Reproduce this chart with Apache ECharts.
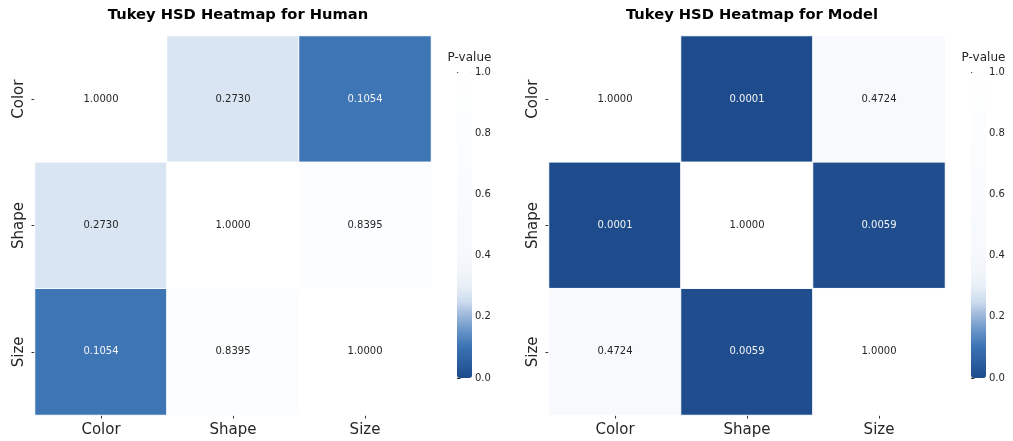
<!DOCTYPE html>
<html>
<head>
<meta charset="utf-8">
<script src="https://cdn.jsdelivr.net/npm/echarts@6/dist/echarts.min.js"></script>
<style>
html,body{margin:0;padding:0;background:#fff;}
#chart{width:1013px;height:441px;}
</style>
</head>
<body>
<div id="chart"></div>
<script>
var categories = ['Color', 'Shape', 'Size'];
var humanP = [
  [1.0000, 0.2730, 0.1054],
  [0.2730, 1.0000, 0.8395],
  [0.1054, 0.8395, 1.0000]
];
var modelP = [
  [1.0000, 0.0001, 0.4724],
  [0.0001, 1.0000, 0.0059],
  [0.4724, 0.0059, 1.0000]
];
var titles = ['Tukey HSD Heatmap for Human', 'Tukey HSD Heatmap for Model'];
var colorbarLabel = 'P-value';
var cmapStops = ['#1d4b8b','#2b5f9f','#3a72b3','#6391c6','#97b4d8','#cddcee','#e8eff7','#f2f6fb','#f5f8fc','#f7f9fd','#f7fafd','#f8fafd','#f9fbfe','#f9fbfe','#fafcfe','#fbfcfe','#fbfdfe','#fcfdfe','#fdfefe','#fefeff','#ffffff'];

var FONT = 'DejaVu Sans';
var TXT = '#262626';

function toData(m) {
  var out = [];
  for (var r = 0; r < m.length; r++) {
    for (var c = 0; c < m[r].length; c++) {
      var v = m[r][c];
      out.push({value: [c, r, v], label: {color: v < 0.2 ? '#f4f4f4' : TXT}});
    }
  }
  return out;
}

var gridsPos = [{left: 35, top: 36, width: 396, height: 379}, {left: 549, top: 36, width: 396, height: 379}];
var cbPos = [{left: 457, top: 72, width: 15, height: 306}, {left: 971, top: 72, width: 15, height: 306}];

var grid = [], xAxis = [], yAxis = [], series = [], visualMap = [], title = [];
[humanP, modelP].forEach(function (m, i) {
  grid.push(gridsPos[i]);
  xAxis.push({
    type: 'category', gridIndex: i, data: categories,
    axisLine: {show: false}, splitLine: {show: false},
    axisTick: {show: true, alignWithLabel: true, length: 3.5, lineStyle: {color: '#333'}},
    axisLabel: {fontFamily: FONT, fontSize: 15, color: TXT, margin: 8}
  });
  yAxis.push({
    type: 'category', gridIndex: i, data: categories, inverse: true,
    axisLine: {show: false}, splitLine: {show: false},
    axisTick: {show: true, alignWithLabel: true, length: 3.5, lineStyle: {color: '#333'}},
    axisLabel: {fontFamily: FONT, fontSize: 15, color: TXT, rotate: 90, margin: 8}
  });
  series.push({
    type: 'heatmap', xAxisIndex: i, yAxisIndex: i, data: toData(m),
    itemStyle: {borderColor: '#ffffff', borderWidth: 1},
    label: {show: true, fontFamily: FONT, fontSize: 10, formatter: function (p) { return p.value[2].toFixed(4); }},
    emphasis: {disabled: true}
  });
  visualMap.push({
    type: 'continuous', seriesIndex: i, min: 0, max: 1, dimension: 2,
    inRange: {color: cmapStops},
    left: cbPos[i].left, top: cbPos[i].top, itemWidth: cbPos[i].width, itemHeight: cbPos[i].height,
    padding: 0, calculable: false, hoverLink: false, text: null, showLabel: false,
    handleStyle: {opacity: 0}, indicatorStyle: {opacity: 0}, indicatorSize: 0
  });
  title.push({
    text: titles[i], left: gridsPos[i].left + gridsPos[i].width / 2, top: 3, textAlign: 'center',
    textStyle: {fontFamily: FONT, fontSize: 14.7, fontWeight: 'bold', color: '#000'}
  });
  title.push({
    text: colorbarLabel, left: cbPos[i].left + cbPos[i].width / 2, top: 47, textAlign: 'center',
    textStyle: {fontFamily: FONT, fontSize: 12, fontWeight: 'normal', color: TXT}
  });
});

// colorbar axes
cbPos.forEach(function (p, i) {
  grid.push(p);
  xAxis.push({type: 'value', gridIndex: 2 + i, show: false, min: 0, max: 1});
  yAxis.push({
    type: 'value', gridIndex: 2 + i, position: 'right', min: 0, max: 1, interval: 0.2,
    axisLine: {show: false}, splitLine: {show: false},
    axisTick: {show: true, length: 3.5, lineStyle: {color: '#333'}},
    axisLabel: {fontFamily: FONT, fontSize: 10, color: TXT, margin: 3, formatter: function (v) { return v.toFixed(1); }}
  });
});

var chart = echarts.init(document.getElementById('chart'), null, {renderer: 'canvas'});
chart.setOption({
  backgroundColor: '#ffffff',
  animation: false,
  title: title, grid: grid, xAxis: xAxis, yAxis: yAxis, visualMap: visualMap, series: series
});
</script>
</body>
</html>
